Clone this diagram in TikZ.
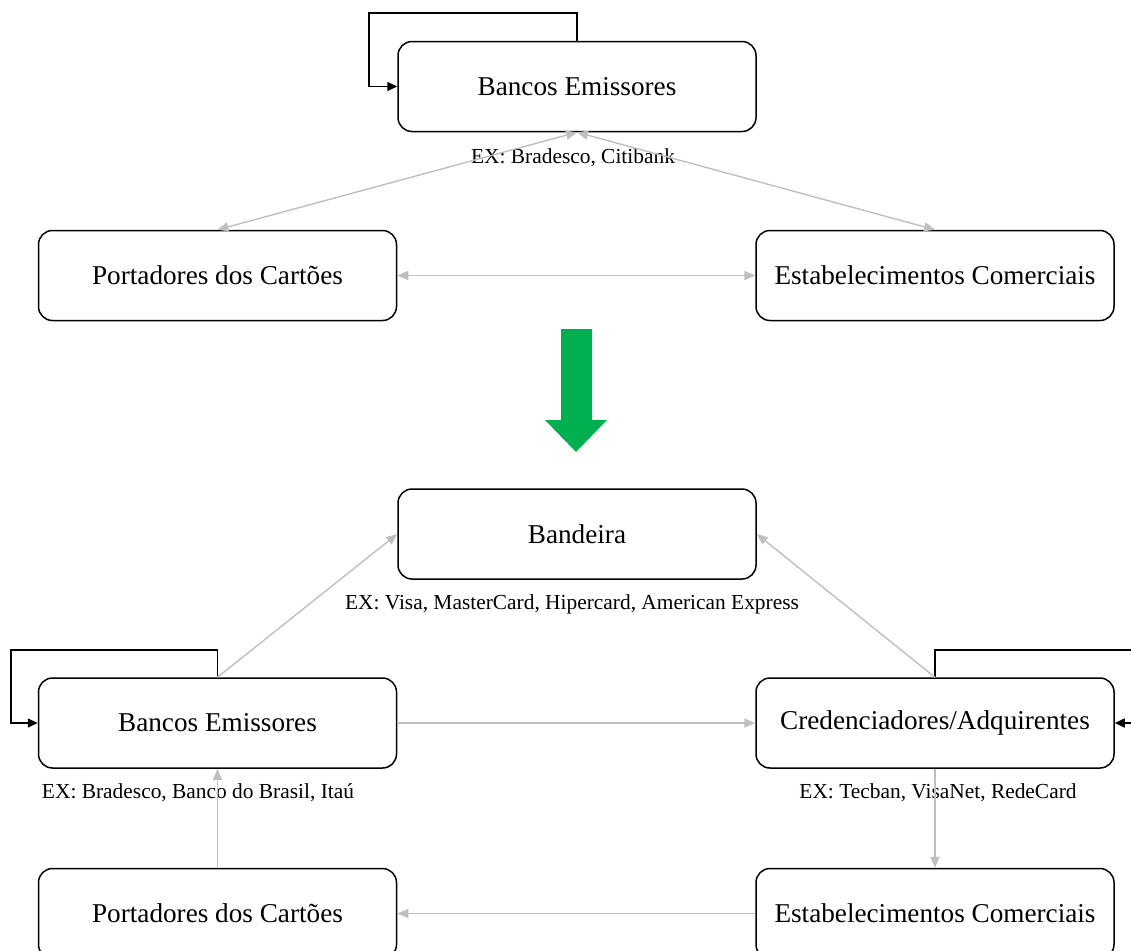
\documentclass[tikz,border=0pt]{standalone}
\usepackage{fontspec}
\setmainfont{Liberation Serif}
\usetikzlibrary{arrows.meta}
\definecolor{ink}{HTML}{000000}
\definecolor{flow}{HTML}{BFBFBF}
\definecolor{newmodel}{HTML}{00B050}
\tikzset{
  box/.style={draw=ink, line width=0.75pt, rounded corners=7pt, fill=white,
              minimum width=179pt, minimum height=45pt, inner sep=2pt,
              font=\fontsize{13.6}{16}\selectfont},
  ex/.style={font=\fontsize{10.7}{12}\selectfont, inner sep=0pt},
  ar/.style={-{Triangle[length=5.5pt,width=4.5pt]}, line width=0.7pt, color=flow},
  bi/.style={{Triangle[length=5.5pt,width=4.5pt]}-{Triangle[length=5.5pt,width=4.5pt]}, line width=0.7pt, color=flow},
  self/.style={-{Triangle[length=5pt,width=4.5pt]}, line width=0.75pt, color=ink},
}
\begin{document}
\begin{tikzpicture}[x=0.5pt,y=-0.5pt]
\useasboundingbox (0,0) rectangle (1131,950);
\clip (0,0) rectangle (1131,950);

% --- BEFORE ---
\node[box] (banc1) at (577,86.5) {Bancos Emissores};
\node[box] (port1) at (217.5,275.5) {Portadores dos Cartões};
\node[box] (estab1) at (935,275.5) {Estabelecimentos Comerciais};
\node[ex] (exbanc1) at (573,158) {EX: Bradesco, Citibank};
\coordinate (loop1) at (369,13);

\draw[self] (banc1.north) |- (loop1) |- (banc1.west);
\draw[bi] (banc1.south) -- (port1.north);
\draw[bi] (banc1.south) -- (estab1.north);
\draw[bi] (port1.east) -- (estab1.west);

% --- TRANSITION ---
\fill[newmodel] (561,329) -- (592,329) -- (592,420) -- (607,420) -- (576,452)
  -- (545,420) -- (561,420) -- cycle;

% --- AFTER ---
\node[box] (band) at (577,534) {Bandeira};
\node[box] (banc2) at (217.5,723) {Bancos Emissores};
\node[box] (cred) at (935,723) {Credenciadores/Adquirentes};
\node[box] (port2) at (217.5,913.5) {Portadores dos Cartões};
\node[box] (estab2) at (935,913.5) {Estabelecimentos Comerciais};
\node[ex] (exband) at (572,604) {EX: Visa, MasterCard, Hipercard, American Express};
\node[ex] (exbanc2) at (198,793) {EX: Bradesco, Banco do Brasil, Itaú};
\node[ex] (excred) at (938,793) {EX: Tecban, VisaNet, RedeCard};
\coordinate (loop2) at (11,650);
\coordinate (loop3) at (1145,650);

\draw[self] (banc2.north) |- (loop2) |- (banc2.west);
\draw[self] (cred.north) |- (loop3) |- (cred.east);
\draw[ar] (banc2.north) -- (band.west);
\draw[ar] (cred.north) -- (band.east);
\draw[ar] (banc2.east) -- (cred.west);
\draw[ar] (cred.south) -- (estab2.north);
\draw[ar] (estab2.west) -- (port2.east);
\draw[ar] (port2.north) -- (banc2.south);

\end{tikzpicture}
\end{document}
